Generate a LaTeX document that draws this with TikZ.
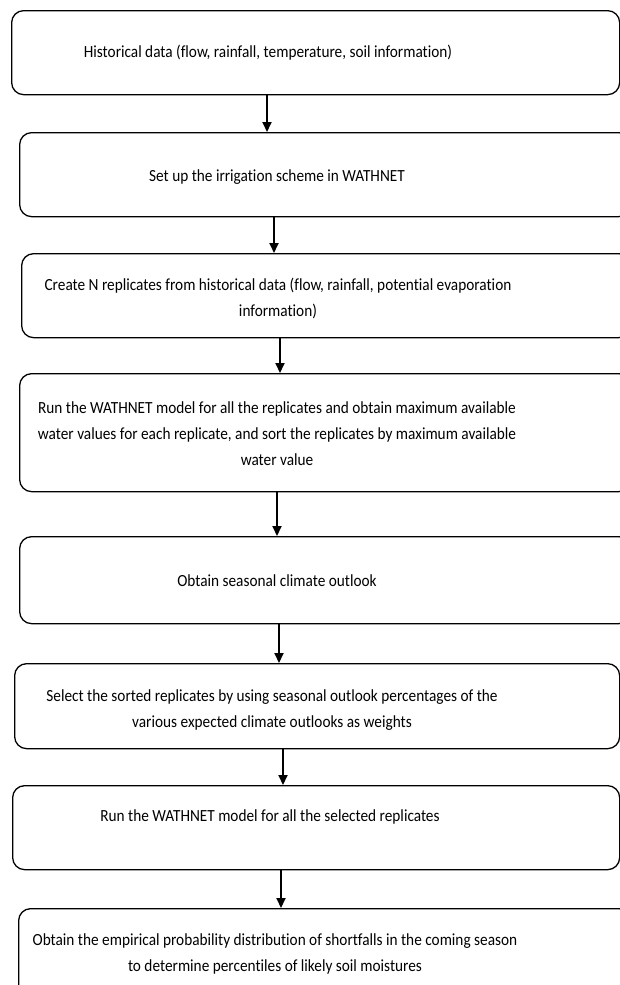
\documentclass[tikz,border=0pt]{standalone}
\usepackage{fontspec}
\setmainfont{Carlito}[FakeStretch=0.9, Ligatures={NoCommon}]
\usetikzlibrary{arrows.meta}
\begin{document}
\begin{tikzpicture}[x=1pt,y=-1pt,
  box/.style={draw=black, line width=1.3pt, rounded corners=12pt, inner sep=0pt, anchor=north west},
  txt/.style={font=\fontsize{17}{26}\selectfont, align=center, anchor=base, inner sep=0pt},
  arr/.style={line width=1.9pt, -{Triangle[length=10pt,width=9pt]}}]
\useasboundingbox (0,0) rectangle (620,985);
\clip (0,0) rectangle (620,985);
% boxes
\node[box, minimum width=608pt, minimum height=84pt] (b1) at (11,10) {};
\node[box, minimum width=611pt, minimum height=84pt] (b2) at (19,132) {};
\node[box, minimum width=609pt, minimum height=84pt] (b3) at (21,253) {};
\node[box, minimum width=611pt, minimum height=118pt] (b4) at (19,373) {};
\node[box, minimum width=611pt, minimum height=87pt] (b5) at (19,536) {};
\node[box, minimum width=605pt, minimum height=85pt] (b6) at (14,663) {};
\node[box, minimum width=607pt, minimum height=84pt] (b7) at (12,785) {};
\node[box, minimum width=612pt, minimum height=110pt] (b8) at (18,908) {};
% texts (base anchor = baseline of last line)
\node[txt] (t1) at (268,57.5) {Historical data (flow, rainfall, temperature, soil information)};
\node[txt] (t2) at (277,181) {Set up the irrigation scheme in WATHNET};
\node[txt] (t3) at (278,316) {Create N replicates from historical data (flow, rainfall, potential evaporation\\information)};
\node[txt] (t4) at (277,465) {Run the WATHNET model for all the replicates and obtain maximum available\\water values for each replicate, and sort the replicates by maximum available\\water value};
\node[txt] (t5) at (277,586) {Obtain seasonal climate outlook};
\node[txt] (t6) at (272,727) {Select the sorted replicates by using seasonal outlook percentages of the\\various expected climate outlooks as weights};
\node[txt] (t7) at (270,821) {Run the WATHNET model for all the selected replicates};
\node[txt] (t8) at (275,971) {Obtain the empirical probability distribution of shortfalls in the coming season\\to determine percentiles of likely soil moistures};
% arrow columns
\coordinate (c1) at (267,0);
\coordinate (c2) at (274,0);
\coordinate (c3) at (280,0);
\coordinate (c4) at (277,0);
\coordinate (c5) at (279,0);
\coordinate (c6) at (283,0);
\coordinate (c7) at (281,0);
\draw[arr] (b1.south -| c1) -- (b2.north -| c1);
\draw[arr] (b2.south -| c2) -- (b3.north -| c2);
\draw[arr] (b3.south -| c3) -- (b4.north -| c3);
\draw[arr] (b4.south -| c4) -- (b5.north -| c4);
\draw[arr] (b5.south -| c5) -- (b6.north -| c5);
\draw[arr] (b6.south -| c6) -- (b7.north -| c6);
\draw[arr] (b7.south -| c7) -- (b8.north -| c7);
\end{tikzpicture}
\end{document}
